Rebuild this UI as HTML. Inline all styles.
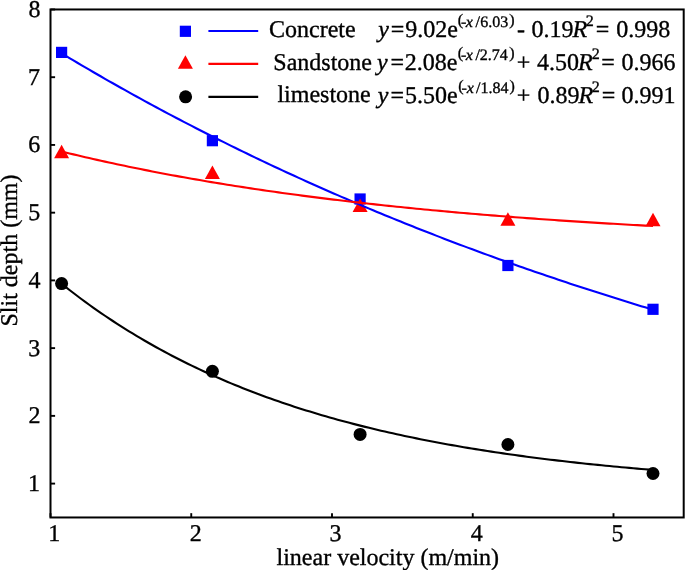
<!DOCTYPE html>
<html><head><meta charset="utf-8"><style>
html,body{margin:0;padding:0;background:#fff;}
body{width:685px;height:570px;overflow:hidden;}
svg{display:block;filter:blur(0.4px);}
text{font-family:"Liberation Serif",serif;fill:#000;stroke:#000;stroke-width:0.35px;text-rendering:geometricPrecision;}
</style></head><body>
<svg width="685" height="570" viewBox="0 0 685 570">
<rect x="56.00" y="46.80" width="11.2" height="11.2" fill="#0000ff"/>
<rect x="206.80" y="135.10" width="11.2" height="11.2" fill="#0000ff"/>
<rect x="354.50" y="193.40" width="11.2" height="11.2" fill="#0000ff"/>
<rect x="502.30" y="259.90" width="11.2" height="11.2" fill="#0000ff"/>
<rect x="647.40" y="303.70" width="11.2" height="11.2" fill="#0000ff"/>
<path d="M61.60,144.77 L69.10,158.17 L54.10,158.17 Z" fill="#ff0000"/>
<path d="M212.40,165.57 L219.90,178.97 L204.90,178.97 Z" fill="#ff0000"/>
<path d="M360.10,198.57 L367.60,211.97 L352.60,211.97 Z" fill="#ff0000"/>
<path d="M507.90,212.27 L515.40,225.67 L500.40,225.67 Z" fill="#ff0000"/>
<path d="M653.00,212.87 L660.50,226.27 L645.50,226.27 Z" fill="#ff0000"/>
<path d="M61.60,53.34 L65.54,55.70 L69.49,58.06 L73.43,60.41 L77.37,62.74 L81.31,65.07 L85.26,67.38 L89.20,69.68 L93.14,71.97 L97.08,74.26 L101.03,76.53 L104.97,78.79 L108.91,81.04 L112.85,83.28 L116.80,85.50 L120.74,87.72 L124.68,89.93 L128.63,92.13 L132.57,94.32 L136.51,96.49 L140.45,98.66 L144.40,100.82 L148.34,102.97 L152.28,105.11 L156.22,107.23 L160.17,109.35 L164.11,111.46 L168.05,113.56 L171.99,115.65 L175.94,117.72 L179.88,119.79 L183.82,121.85 L187.77,123.90 L191.71,125.94 L195.65,127.98 L199.59,130.00 L203.54,132.01 L207.48,134.01 L211.42,136.01 L215.36,137.99 L219.31,139.97 L223.25,141.93 L227.19,143.89 L231.13,145.84 L235.08,147.78 L239.02,149.71 L242.96,151.63 L246.91,153.54 L250.85,155.44 L254.79,157.34 L258.73,159.22 L262.68,161.10 L266.62,162.97 L270.56,164.83 L274.50,166.68 L278.45,168.52 L282.39,170.36 L286.33,172.18 L290.27,174.00 L294.22,175.81 L298.16,177.61 L302.10,179.40 L306.05,181.18 L309.99,182.96 L313.93,184.72 L317.87,186.48 L321.82,188.23 L325.76,189.98 L329.70,191.71 L333.64,193.44 L337.59,195.15 L341.53,196.86 L345.47,198.57 L349.41,200.26 L353.36,201.95 L357.30,203.63 L361.24,205.30 L365.19,206.96 L369.13,208.62 L373.07,210.27 L377.01,211.91 L380.96,213.54 L384.90,215.16 L388.84,216.78 L392.78,218.39 L396.73,219.99 L400.67,221.59 L404.61,223.18 L408.55,224.76 L412.50,226.33 L416.44,227.90 L420.38,229.46 L424.33,231.01 L428.27,232.55 L432.21,234.09 L436.15,235.62 L440.10,237.14 L444.04,238.66 L447.98,240.17 L451.92,241.67 L455.87,243.16 L459.81,244.65 L463.75,246.13 L467.69,247.61 L471.64,249.07 L475.58,250.53 L479.52,251.99 L483.47,253.43 L487.41,254.87 L491.35,256.31 L495.29,257.74 L499.24,259.16 L503.18,260.57 L507.12,261.98 L511.06,263.38 L515.01,264.77 L518.95,266.16 L522.89,267.54 L526.83,268.92 L530.78,270.28 L534.72,271.65 L538.66,273.00 L542.61,274.35 L546.55,275.70 L550.49,277.03 L554.43,278.36 L558.38,279.69 L562.32,281.01 L566.26,282.32 L570.20,283.63 L574.15,284.93 L578.09,286.22 L582.03,287.51 L585.97,288.79 L589.92,290.07 L593.86,291.34 L597.80,292.60 L601.75,293.86 L605.69,295.11 L609.63,296.36 L613.57,297.60 L617.52,298.84 L621.46,300.07 L625.40,301.29 L629.34,302.51 L633.29,303.72 L637.23,304.93 L641.17,306.13 L645.11,307.33 L649.06,308.52 L653.00,309.70" stroke="#0000ff" stroke-width="2.1" fill="none"/>
<path d="M61.60,151.50 L65.54,152.47 L69.49,153.43 L73.43,154.37 L77.37,155.31 L81.31,156.24 L85.26,157.16 L89.20,158.07 L93.14,158.97 L97.08,159.86 L101.03,160.74 L104.97,161.61 L108.91,162.47 L112.85,163.33 L116.80,164.18 L120.74,165.01 L124.68,165.84 L128.63,166.66 L132.57,167.48 L136.51,168.28 L140.45,169.08 L144.40,169.86 L148.34,170.64 L152.28,171.41 L156.22,172.18 L160.17,172.94 L164.11,173.68 L168.05,174.42 L171.99,175.16 L175.94,175.88 L179.88,176.60 L183.82,177.31 L187.77,178.02 L191.71,178.72 L195.65,179.40 L199.59,180.09 L203.54,180.76 L207.48,181.43 L211.42,182.09 L215.36,182.75 L219.31,183.40 L223.25,184.04 L227.19,184.68 L231.13,185.31 L235.08,185.93 L239.02,186.54 L242.96,187.16 L246.91,187.76 L250.85,188.36 L254.79,188.95 L258.73,189.53 L262.68,190.11 L266.62,190.69 L270.56,191.26 L274.50,191.82 L278.45,192.37 L282.39,192.93 L286.33,193.47 L290.27,194.01 L294.22,194.54 L298.16,195.07 L302.10,195.60 L306.05,196.11 L309.99,196.63 L313.93,197.14 L317.87,197.64 L321.82,198.14 L325.76,198.63 L329.70,199.11 L333.64,199.60 L337.59,200.07 L341.53,200.55 L345.47,201.01 L349.41,201.48 L353.36,201.94 L357.30,202.39 L361.24,202.84 L365.19,203.28 L369.13,203.72 L373.07,204.16 L377.01,204.59 L380.96,205.02 L384.90,205.44 L388.84,205.86 L392.78,206.27 L396.73,206.68 L400.67,207.08 L404.61,207.49 L408.55,207.88 L412.50,208.28 L416.44,208.67 L420.38,209.05 L424.33,209.43 L428.27,209.81 L432.21,210.18 L436.15,210.55 L440.10,210.92 L444.04,211.28 L447.98,211.64 L451.92,211.99 L455.87,212.35 L459.81,212.69 L463.75,213.04 L467.69,213.38 L471.64,213.72 L475.58,214.05 L479.52,214.38 L483.47,214.71 L487.41,215.03 L491.35,215.35 L495.29,215.67 L499.24,215.98 L503.18,216.29 L507.12,216.60 L511.06,216.90 L515.01,217.21 L518.95,217.50 L522.89,217.80 L526.83,218.09 L530.78,218.38 L534.72,218.67 L538.66,218.95 L542.61,219.23 L546.55,219.51 L550.49,219.78 L554.43,220.06 L558.38,220.33 L562.32,220.59 L566.26,220.86 L570.20,221.12 L574.15,221.38 L578.09,221.63 L582.03,221.88 L585.97,222.14 L589.92,222.38 L593.86,222.63 L597.80,222.87 L601.75,223.11 L605.69,223.35 L609.63,223.59 L613.57,223.82 L617.52,224.05 L621.46,224.28 L625.40,224.51 L629.34,224.73 L633.29,224.95 L637.23,225.17 L641.17,225.39 L645.11,225.60 L649.06,225.82 L653.00,226.03" stroke="#ff0000" stroke-width="2.1" fill="none"/>
<circle cx="61.60" cy="283.60" r="6.5" fill="#000000"/>
<circle cx="212.40" cy="371.30" r="6.5" fill="#000000"/>
<circle cx="360.10" cy="434.40" r="6.5" fill="#000000"/>
<circle cx="507.90" cy="444.50" r="6.5" fill="#000000"/>
<circle cx="653.00" cy="473.50" r="6.5" fill="#000000"/>
<path d="M61.60,283.79 L65.54,286.92 L69.49,290.00 L73.43,293.04 L77.37,296.03 L81.31,298.98 L85.26,301.88 L89.20,304.74 L93.14,307.55 L97.08,310.33 L101.03,313.06 L104.97,315.75 L108.91,318.39 L112.85,321.00 L116.80,323.57 L120.74,326.10 L124.68,328.59 L128.63,331.05 L132.57,333.47 L136.51,335.85 L140.45,338.19 L144.40,340.50 L148.34,342.78 L152.28,345.02 L156.22,347.22 L160.17,349.40 L164.11,351.54 L168.05,353.64 L171.99,355.72 L175.94,357.76 L179.88,359.78 L183.82,361.76 L187.77,363.72 L191.71,365.64 L195.65,367.53 L199.59,369.40 L203.54,371.24 L207.48,373.05 L211.42,374.83 L215.36,376.59 L219.31,378.32 L223.25,380.02 L227.19,381.70 L231.13,383.35 L235.08,384.98 L239.02,386.58 L242.96,388.16 L246.91,389.71 L250.85,391.24 L254.79,392.75 L258.73,394.24 L262.68,395.70 L266.62,397.14 L270.56,398.56 L274.50,399.96 L278.45,401.33 L282.39,402.69 L286.33,404.02 L290.27,405.34 L294.22,406.63 L298.16,407.91 L302.10,409.16 L306.05,410.40 L309.99,411.62 L313.93,412.82 L317.87,414.00 L321.82,415.17 L325.76,416.31 L329.70,417.44 L333.64,418.55 L337.59,419.65 L341.53,420.73 L345.47,421.79 L349.41,422.84 L353.36,423.87 L357.30,424.88 L361.24,425.88 L365.19,426.87 L369.13,427.84 L373.07,428.79 L377.01,429.73 L380.96,430.66 L384.90,431.57 L388.84,432.47 L392.78,433.35 L396.73,434.23 L400.67,435.08 L404.61,435.93 L408.55,436.76 L412.50,437.58 L416.44,438.39 L420.38,439.19 L424.33,439.97 L428.27,440.74 L432.21,441.50 L436.15,442.25 L440.10,442.99 L444.04,443.71 L447.98,444.43 L451.92,445.13 L455.87,445.83 L459.81,446.51 L463.75,447.18 L467.69,447.85 L471.64,448.50 L475.58,449.14 L479.52,449.78 L483.47,450.40 L487.41,451.01 L491.35,451.62 L495.29,452.21 L499.24,452.80 L503.18,453.38 L507.12,453.95 L511.06,454.51 L515.01,455.06 L518.95,455.60 L522.89,456.14 L526.83,456.67 L530.78,457.19 L534.72,457.70 L538.66,458.20 L542.61,458.70 L546.55,459.19 L550.49,459.67 L554.43,460.14 L558.38,460.61 L562.32,461.07 L566.26,461.52 L570.20,461.97 L574.15,462.41 L578.09,462.84 L582.03,463.27 L585.97,463.69 L589.92,464.10 L593.86,464.51 L597.80,464.91 L601.75,465.30 L605.69,465.69 L609.63,466.08 L613.57,466.45 L617.52,466.82 L621.46,467.19 L625.40,467.55 L629.34,467.91 L633.29,468.26 L637.23,468.60 L641.17,468.94 L645.11,469.27 L649.06,469.60 L653.00,469.93" stroke="#000000" stroke-width="2.1" fill="none"/>
<rect x="50.5" y="9.47" width="633.2" height="508.00" fill="none" stroke="#000" stroke-width="2.0"/>
<line x1="50.50" y1="517.47" x2="50.50" y2="513.17" stroke="#000" stroke-width="1.9"/>
<line x1="191.25" y1="517.47" x2="191.25" y2="513.17" stroke="#000" stroke-width="1.9"/>
<line x1="332.00" y1="517.47" x2="332.00" y2="513.17" stroke="#000" stroke-width="1.9"/>
<line x1="472.75" y1="517.47" x2="472.75" y2="513.17" stroke="#000" stroke-width="1.9"/>
<line x1="613.50" y1="517.47" x2="613.50" y2="513.17" stroke="#000" stroke-width="1.9"/>
<line x1="50.5" y1="483.60" x2="55.1" y2="483.60" stroke="#000" stroke-width="1.9"/>
<line x1="50.5" y1="415.87" x2="55.1" y2="415.87" stroke="#000" stroke-width="1.9"/>
<line x1="50.5" y1="348.13" x2="55.1" y2="348.13" stroke="#000" stroke-width="1.9"/>
<line x1="50.5" y1="280.40" x2="55.1" y2="280.40" stroke="#000" stroke-width="1.9"/>
<line x1="50.5" y1="212.67" x2="55.1" y2="212.67" stroke="#000" stroke-width="1.9"/>
<line x1="50.5" y1="144.93" x2="55.1" y2="144.93" stroke="#000" stroke-width="1.9"/>
<line x1="50.5" y1="77.20" x2="55.1" y2="77.20" stroke="#000" stroke-width="1.9"/>
<line x1="50.5" y1="9.47" x2="55.1" y2="9.47" stroke="#000" stroke-width="1.9"/>
<text x="48.20" y="540.50" font-size="24">1</text>
<text x="189.78" y="540.50" font-size="24">2</text>
<text x="329.62" y="540.50" font-size="24">3</text>
<text x="470.80" y="540.50" font-size="24">4</text>
<text x="611.50" y="540.50" font-size="24">5</text>
<text x="28.00" y="491.00" font-size="24">1</text>
<text x="28.52" y="423.27" font-size="24">2</text>
<text x="28.27" y="355.53" font-size="24">3</text>
<text x="28.40" y="287.80" font-size="24">4</text>
<text x="28.15" y="220.07" font-size="24">5</text>
<text x="28.33" y="152.33" font-size="24">6</text>
<text x="27.88" y="84.60" font-size="24">7</text>
<text x="28.55" y="16.87" font-size="24">8</text>
<text x="276.50" y="564.80" font-size="24">linear velocity (m/min)</text>
<text transform="translate(17.2,326.5) rotate(-90)" font-size="24">Slit depth (mm)</text>
<rect x="179.80" y="25.70" width="11.2" height="11.2" fill="#0000ff"/>
<path d="M185.40,55.27 L192.90,68.67 L177.90,68.67 Z" fill="#ff0000"/>
<circle cx="185.60" cy="96.80" r="6.5" fill="#000000"/>
<line x1="208.4" y1="31.0" x2="258.2" y2="31.0" stroke="#0000ff" stroke-width="2.1"/>
<line x1="208.4" y1="63.9" x2="258.2" y2="63.9" stroke="#ff0000" stroke-width="2.1"/>
<line x1="208.4" y1="96.9" x2="258.2" y2="96.9" stroke="#000000" stroke-width="2.1"/>
<text x="269.00" y="36.90" font-size="24">Concrete</text>
<text x="273.30" y="69.70" font-size="24">Sandstone</text>
<text x="277.40" y="102.40" font-size="24">limestone</text>
<text x="378.20" y="36.90" font-size="24" font-style="italic">y</text>
<text x="390.75" y="36.90" font-size="24">=</text>
<text x="405.25" y="36.90" font-size="24">9.02e</text>
<text x="457.75" y="24.80" font-size="16">(</text>
<text x="461.00" y="27.00" font-size="16">-</text>
<text x="465.85" y="27.00" font-size="16" font-style="italic">x</text>
<text x="475.60" y="27.00" font-size="16">/</text>
<text x="480.15" y="27.00" font-size="16">6.03</text>
<text x="509.20" y="24.80" font-size="16">)</text>
<text x="517.10" y="36.90" font-size="24">-</text>
<text x="531.40" y="36.90" font-size="24">0.19</text>
<text x="572.40" y="36.90" font-size="24" font-style="italic">R</text>
<text x="585.65" y="26.20" font-size="16">2</text>
<text x="595.65" y="36.90" font-size="24">=</text>
<text x="616.20" y="36.90" font-size="24">0.998</text>
<text x="377.00" y="69.60" font-size="24" font-style="italic">y</text>
<text x="390.55" y="69.60" font-size="24">=</text>
<text x="404.70" y="69.60" font-size="24">2.08e</text>
<text x="457.75" y="57.70" font-size="16">(</text>
<text x="461.00" y="59.90" font-size="16">-</text>
<text x="465.85" y="59.90" font-size="16" font-style="italic">x</text>
<text x="475.60" y="59.90" font-size="16">/</text>
<text x="479.65" y="59.90" font-size="16">2.74</text>
<text x="509.20" y="57.70" font-size="16">)</text>
<text x="516.85" y="69.60" font-size="24">+</text>
<text x="537.00" y="69.60" font-size="24">4.50</text>
<text x="577.90" y="69.60" font-size="24" font-style="italic">R</text>
<text x="591.65" y="59.20" font-size="16">2</text>
<text x="601.15" y="69.60" font-size="24">=</text>
<text x="621.40" y="69.60" font-size="24">0.966</text>
<text x="377.70" y="102.50" font-size="24" font-style="italic">y</text>
<text x="390.55" y="102.50" font-size="24">=</text>
<text x="404.90" y="102.50" font-size="24">5.50e</text>
<text x="458.25" y="90.60" font-size="16">(</text>
<text x="461.50" y="92.80" font-size="16">-</text>
<text x="466.65" y="92.80" font-size="16" font-style="italic">x</text>
<text x="476.10" y="92.80" font-size="16">/</text>
<text x="480.50" y="92.80" font-size="16">1.84</text>
<text x="509.40" y="90.60" font-size="16">)</text>
<text x="516.85" y="102.50" font-size="24">+</text>
<text x="537.50" y="102.50" font-size="24">0.89</text>
<text x="578.40" y="102.50" font-size="24" font-style="italic">R</text>
<text x="591.65" y="92.20" font-size="16">2</text>
<text x="601.65" y="102.50" font-size="24">=</text>
<text x="621.60" y="102.50" font-size="24">0.991</text>
</svg>
</body></html>
